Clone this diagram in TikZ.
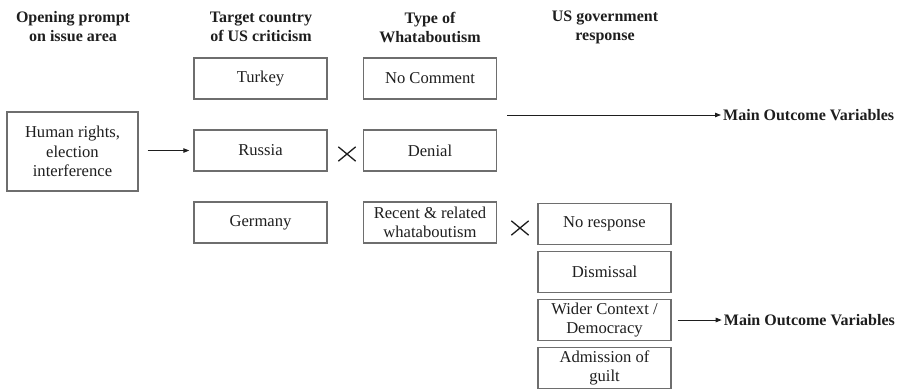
\documentclass[tikz,border=0pt]{standalone}
\usepackage{fontspec}
\setmainfont{Liberation Serif}
\usepackage{tikz}
\usetikzlibrary{arrows.meta,shapes.misc}
\definecolor{boxgray}{HTML}{6E6E6E}
\definecolor{inkgray}{HTML}{1E1E1E}
\tikzstyle{box} = [draw=boxgray, line width=1.4pt, text=inkgray, align=center, minimum width=133pt, minimum height=41pt, inner sep=2pt, font=\fontsize{16.6}{19.5}\selectfont]
\tikzstyle{head} = [align=center, text=inkgray, font=\fontsize{16}{19}\selectfont\bfseries]
\tikzstyle{outcome} = [anchor=west, inner sep=2pt, text=inkgray, font=\fontsize{16}{19}\selectfont\bfseries]
\tikzstyle{arrow} = [line width=0.9pt, draw=inkgray, ->, >={Triangle[length=6pt,width=4.5pt]}]
\tikzstyle{times} = [cross out, draw=inkgray, line width=1.3pt, minimum width=16pt, minimum height=13pt, inner sep=0pt]

\begin{document}
\begin{tikzpicture}[x=1pt, y=-1pt, node distance=72pt]
\useasboundingbox (0,0) rectangle (903,389);
% column heads
\node (headprompt) [head] at (73,27) {Opening prompt\\on issue area};
\node (headtarget) [head] at (261,27) {Target country\\of US criticism};
\node (headtype) [head] at (430,27) {Type of\\Whataboutism};
\node (headresp) [head] at (605,27) {US government\\response};

\node (human) [box, minimum width=131pt, minimum height=79pt] at (72.5,151.5) {Human rights,\\election\\interference};

\node (turkey) [box] at (260.5,78.5) {Turkey};
\node (russia) [box, below of=turkey] {Russia};
\node (germany) [box, below of=russia] {Germany};

\node (nocomment) [box] at (430,78.5) {No Comment};
\node (denial) [box, below of=nocomment] {Denial};
\node (recent) [box, below of=denial] {Recent \& related\\whataboutism};

\node (noresp) [box] at (604.5,224) {No response};
\node (dismissal) [box, below of=noresp, node distance=48pt] {Dismissal};
\node (wider) [box, below of=dismissal, node distance=48pt] {Wider Context /\\Democracy};
\node (admission) [box, below of=wider, node distance=48pt] {Admission of\\guilt};

\node (cross1) [times] at (347,154) {};
\node (cross2) [times] at (520,228) {};

\coordinate (topstart) at (507,115);
\node (main1) [outcome] at (721,115) {Main Outcome Variables};
\node (main2) [outcome] at ([xshift=50pt]wider.east) {Main Outcome Variables};

\draw [arrow, shorten <=9pt, shorten >=4pt] (human.east |- russia.west) -- (russia.west);
\draw [arrow] (topstart) -- (main1.west);
\draw [arrow, shorten <=6pt] (wider.east) -- (main2.west);
\end{tikzpicture}
\end{document}
